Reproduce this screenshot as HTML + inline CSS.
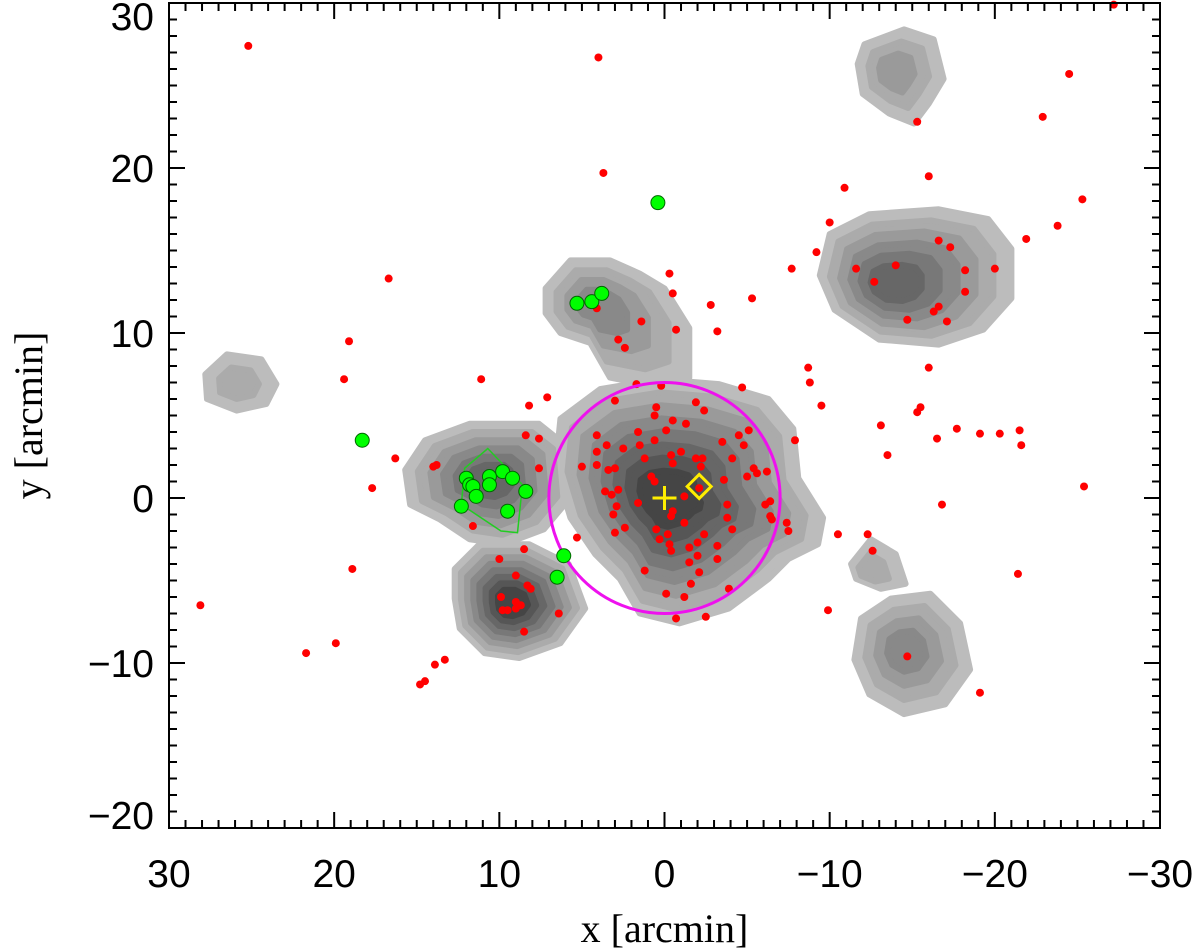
<!DOCTYPE html>
<html><head><meta charset="utf-8"><style>
html,body{margin:0;padding:0;background:#fff;}
svg{display:block;}
</style></head><body>
<svg id="chart" width="1200" height="949" viewBox="0 0 1200 949" xmlns="http://www.w3.org/2000/svg">
<g id="contours"></g>
<g id="marks"></g>
<g id="axes"></g>
</svg>
<script>
// Red points (x, y in arcmin)
const redX = [25.2,4.0,3.7,-15.3,-24.5,-22.9,-25.3,-23.8,-21.9,-10.9,-16.0,-10.0,-9.2,-7.7,-11.6,-12.7,-14.0,-16.6,-17.3,-18.2,-20.0,-18.2,-16.6,-16.3,-14.7,-17.1,-5.3,-2.8,-3.2,-0.5,-0.3,-0.7,1.4,4.1,16.7,19.1,19.4,11.1,7.1,8.2,2.8,2.4,16.3,17.7,13.8,14.0,11.6,18.9,28.1,21.7,19.9,13.3,13.9,14.8,14.5,-8.7,-8.8,-9.5,-4.7,-16.0,-15.5,-15.3,-16.5,-17.7,-19.1,-20.3,-21.5,-21.6,-13.1,-13.5,-7.9,-16.8,-25.4,-12.3,-12.6,-21.4,-9.9,-14.7,-19.1,-27.2,
1.7,0.2,3.0,-1.9,-2.4,0.5,0.6,-0.5,-1.3,1.6,-0.1,-4.5,-5.1,4.1,3.5,2.5,1.5,0.6,-3.5,-4.8,4.1,-1.0,-0.4,1.2,5.0,4.1,3.4,3.0,-0.5,-1.9,-2.3,-4.1,-2.2,-5.4,-5.6,-6.2,-5.0,-3.6,0.8,0.6,3.6,3.2,2.8,-2.1,-1.2,1.6,2.9,3.1,-0.5,-0.4,-3.8,-6.1,-6.4,-3.8,-6.4,-6.5,-7.4,-7.5,-1.2,-4.1,2.4,3.0,0.5,-0.2,0.3,-2.4,-2.0,-0.3,-0.4,-1.5,-3.2,-2.0,-3.2,-1.5,-2.1,1.2,-1.6,-3.9,-0.1,-1.2,5.3,6.4,-0.7,-2.5,-10.5,
8.4,7.6,7.6,8.5,10.0,9.0,8.3,8.1,9.9,9.0,8.7,9.8,9.5,9.0,8.5];
const redY = [27.4,26.7,19.7,22.8,25.7,23.1,18.1,16.5,15.7,18.8,19.5,16.7,14.9,13.9,13.9,13.1,14.1,15.6,15.2,13.8,13.9,12.5,11.6,11.3,10.8,10.7,12.1,11.7,10.1,12.4,13.6,10.2,10.7,11.5,13.3,9.5,7.2,7.2,6.1,5.6,9.6,9.1,2.4,0.6,2.0,1.9,-1.7,-4.3,-6.5,-9.4,-8.8,-9.8,-10.1,-11.3,-11.1,7.9,7.0,5.6,6.7,7.9,5.5,5.2,3.6,4.2,3.9,3.9,4.1,3.2,4.4,2.6,3.5,-0.4,0.7,-2.2,-3.2,-4.6,-6.8,-9.6,-11.8,29.9,
6.9,6.8,5.9,5.8,5.3,5.5,5.0,4.7,4.5,4.0,4.1,3.8,4.1,3.8,3.2,3.0,3.2,3.5,3.4,3.2,2.8,2.8,2.6,2.4,1.9,2.0,1.7,1.8,2.1,2.4,2.4,2.4,1.9,1.8,1.5,1.6,1.3,1.1,1.3,1.0,0.4,0.2,0.5,0.6,0.1,-0.3,-0.5,-1.0,-0.8,-1.1,-0.4,-0.4,-0.2,-1.2,-1.1,-1.3,-1.5,-2.0,-1.5,-1.9,-1.8,-2.1,-1.9,-2.2,-2.5,-2.2,-2.7,-2.8,-3.2,-3.0,-2.9,-3.5,-3.7,-3.9,-4.5,-4.4,-5.2,-5.5,-5.8,-6.0,-2.4,-7.0,-7.3,-7.2,-2.2,
3.8,3.6,1.8,-3.1,-3.7,-4.7,-5.3,-5.5,-6.0,-6.3,-6.5,-6.8,-6.8,-6.7,-8.1];
// Green points
const greenX = [0.4,5.3,4.4,3.8,18.3,12.0,11.8,11.6,11.4,10.6,10.6,9.8,9.2,8.4,12.3,9.5,6.1,6.5];
const greenY = [17.9,11.8,11.9,12.4,3.5,1.2,0.8,0.7,0.1,1.3,0.8,1.6,1.2,0.4,-0.5,-0.8,-3.5,-4.8];
// Green group outline (arcmin)
const hullX = [10.7,8.6,8.9,9.9,12.3,12.1];
const hullY = [3.0,0.8,-2.1,-2.0,-0.4,1.8];
// Circle, centre and peak
const circleR = 7.0;
const peakX = -2.1, peakY = 0.7;
const xTicks = [30,20,10,0,-10,-20,-30];
const yTicks = [-20,-10,0,10,20,30];

const L=169,R=1160,T=3,B=828;
const X=v=>L+(30-v)*(R-L)/60;
const Y=v=>B-(v+20)*(B-T)/50;
const NS='http://www.w3.org/2000/svg';
function mk(tag,parent){const e=document.createElementNS(NS,tag);parent.appendChild(e);return e;}

const blobs=[
 {c:[-13.9,25.9],n:3,p:[[-12.1,27.5],[-14.5,28.4],[-16.3,27.8],[-16.9,25.4],[-16.0,23.9],[-15.1,22.7],[-13.6,23.3],[-12.0,24.5],[-11.7,26.3]]},
 {c:[-13.6,12.9],n:6,p:[[-10.0,16.0],[-12.4,17.2],[-16.6,17.5],[-19.6,16.9],[-21.0,15.1],[-21.0,12.1],[-19.3,10.2],[-16.6,9.3],[-13.0,9.6],[-10.3,11.4],[-9.4,13.5]]},
 {c:[25.9,6.9],n:2,p:[[27.8,7.5],[26.5,8.7],[24.4,8.4],[23.5,6.9],[24.1,5.7],[25.9,5.3],[27.7,6.0]]},
 {c:[-12.3,-4.5],n:2,p:[[-11.3,-4.0],[-12.5,-2.5],[-14.0,-3.4],[-14.6,-5.2],[-13.1,-5.5],[-11.6,-4.9]]},
 {c:[-14.5,-9.2],n:4,p:[[-11.9,-7.3],[-13.7,-6.1],[-16.1,-5.8],[-17.9,-7.6],[-18.5,-10.4],[-17.0,-12.5],[-14.5,-13.1],[-12.4,-11.9],[-11.5,-9.8]]},
 {c:[4.2,11.7],n:4,p:[[7.2,12.7],[5.7,14.4],[3.3,14.4],[1.5,13.6],[0.0,12.7],[-1.5,10.3],[-1.5,7.3],[0.3,6.7],[3.3,7.3],[4.5,9.4],[6.3,10.0],[7.2,11.2]]},
 {c:[0.0,0.0],n:8,p:[[6.3,4.8],[3.9,6.6],[0.3,7.2],[-3.3,6.9],[-6.3,6.0],[-7.8,4.2],[-8.1,1.2],[-9.6,-1.2],[-9.3,-2.8],[-7.5,-3.7],[-6.3,-4.9],[-3.9,-6.7],[-0.9,-7.6],[1.5,-7.0],[2.7,-4.9],[4.2,-3.4],[5.7,-1.2],[6.6,1.8]]},
 {c:[10.5,1.1],n:6,p:[[15.7,1.7],[14.5,3.5],[11.8,4.5],[7.6,4.5],[6.1,3.3],[5.8,-0.1],[7.3,-1.9],[9.7,-2.8],[11.8,-2.5],[13.6,-1.3],[15.4,-0.4]]},
 {c:[9.3,-6.4],n:8,p:[[12.7,-4.3],[11.2,-2.8],[8.2,-2.8],[5.8,-4.0],[4.8,-6.7],[6.3,-8.8],[8.8,-9.7],[10.9,-9.4],[12.4,-7.9],[12.7,-6.1]]}
];
const cg=document.getElementById('contours');
const maxN=8;
for(let k=0;k<maxN;k++){
 const shade=Math.round(188-k*17);
 blobs.forEach((b,bi)=>{
  if(k>=b.n)return;
  const f=1-k/(b.n)*0.88;
  const pts=b.p.map(q=>{const x=b.c[0]+(q[0]-b.c[0])*f,y=b.c[1]+(q[1]-b.c[1])*f;return X(x).toFixed(1)+','+Y(y).toFixed(1);}).join(' ');
  const pg=mk('polygon',cg);
  pg.setAttribute('points',pts);
  pg.setAttribute('fill',`rgb(${shade},${shade},${shade})`);
  pg.setAttribute('stroke',`rgb(${shade},${shade},${shade})`);
  pg.setAttribute('stroke-width','6');
  pg.setAttribute('stroke-linejoin','round');
  
  
 });
}

const mg=document.getElementById('marks');
const hull=mk('polygon',mg);
hull.setAttribute('points',hullX.map((v,i)=>X(v)+','+Y(hullY[i])).join(' '));
hull.setAttribute('fill','none');hull.setAttribute('stroke','#22cc22');hull.setAttribute('stroke-width','1.5');


redX.forEach((v,i)=>{
 const c=mk('circle',mg);
 c.setAttribute('cx',X(v));c.setAttribute('cy',Y(redY[i]));c.setAttribute('r','4');c.setAttribute('fill','#ff0000');
 
 
});
const circ=mk('ellipse',mg);
circ.setAttribute('cx',X(0));circ.setAttribute('cy',Y(0));
circ.setAttribute('rx',X(0)-X(circleR));circ.setAttribute('ry',Y(-circleR)-Y(0));
circ.setAttribute('fill','none');circ.setAttribute('stroke','#ee11ee');circ.setAttribute('stroke-width','3');


greenX.forEach((v,i)=>{
 const c=mk('circle',mg);
 c.setAttribute('cx',X(v));c.setAttribute('cy',Y(greenY[i]));c.setAttribute('r','7');
 c.setAttribute('fill','#00ff00');c.setAttribute('stroke','#006600');c.setAttribute('stroke-width','1');
 
 
});
const plus=mk('path',mg);
const px=X(0),py=Y(0);
plus.setAttribute('d',`M${px-12},${py}H${px+12}M${px},${py-12}V${py+12}`);
plus.setAttribute('stroke','#ffee00');plus.setAttribute('stroke-width','3');


const dx=X(peakX),dy=Y(peakY);
const dm=mk('polygon',mg);
dm.setAttribute('points',`${dx},${dy-12} ${dx+12},${dy} ${dx},${dy+12} ${dx-12},${dy}`);
dm.setAttribute('fill','none');dm.setAttribute('stroke','#ffee00');dm.setAttribute('stroke-width','3');



const ag=document.getElementById('axes');
const fr=mk('rect',ag);
fr.setAttribute('x',L);fr.setAttribute('y',T);fr.setAttribute('width',R-L);fr.setAttribute('height',B-T);
fr.setAttribute('fill','none');fr.setAttribute('stroke','#000');fr.setAttribute('stroke-width','2');


let d='';
for(let v=-30;v<=30;v+=1){const x=X(v);const len=(v%10===0)?16:8;d+=`M${x},${B}V${B-len}M${x},${T}V${T+len}`;}
for(let v=-20;v<=30;v+=1){const y=Y(v);const len=(v%10===0)?16:8;d+=`M${L},${y}H${L+len}M${R},${y}H${R-len}`;}
const tk=mk('path',ag);tk.setAttribute('d',d);tk.setAttribute('stroke','#000');tk.setAttribute('stroke-width','2');


xTicks.forEach(v=>{
 const t=mk('text',ag);t.textContent=v<0?'\u2212'+(-v):String(v);
 t.setAttribute('x',X(v));t.setAttribute('y',887);t.setAttribute('text-anchor','middle');
 t.setAttribute('font-family','Liberation Sans, sans-serif');t.setAttribute('font-size','39');
 
 
});
yTicks.forEach(v=>{
 const t=mk('text',ag);t.textContent=v<0?'\u2212'+(-v):String(v);
 const yy=v===-20?Y(v)+1:(v===30?Y(v)+27:Y(v)+14);
 t.setAttribute('x',154);t.setAttribute('y',yy);t.setAttribute('text-anchor','end');
 t.setAttribute('font-family','Liberation Sans, sans-serif');t.setAttribute('font-size','39');
 
 
});
const xt=mk('text',ag);xt.textContent='x [arcmin]';
xt.setAttribute('x',X(0));xt.setAttribute('y',942);xt.setAttribute('text-anchor','middle');
xt.setAttribute('font-family','Liberation Serif, serif');xt.setAttribute('font-size','40');


const yt=mk('text',ag);yt.textContent='y [arcmin]';
yt.setAttribute('transform',`translate(42,${Y(5)}) rotate(-90)`);yt.setAttribute('text-anchor','middle');
yt.setAttribute('font-family','Liberation Serif, serif');yt.setAttribute('font-size','40');


</script>
</body></html>
